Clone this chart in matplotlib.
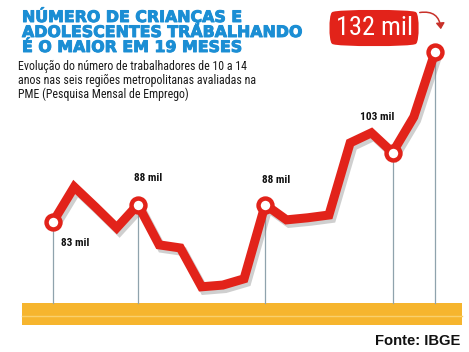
import matplotlib
matplotlib.use("Agg")
import matplotlib.pyplot as plt
import matplotlib.patheffects as pe
from matplotlib import font_manager as fm
from matplotlib.patches import FancyArrowPatch

# ---------------- data ----------------
months = list(range(19))
values = [83, 93.1, 87.3, 81.3, 88, 76.4, 75.5, 64.3, 64.8, 66.6,
          88, 83.6, 84.2, 85.0, 105.8, 108.7, 103, 113.3, 132]
marked_idx = [0, 4, 10, 16, 18]
marked_labels = ["83 mil", "88 mil", "88 mil", "103 mil", "132 mil"]

title_lines = ["NÚMERO DE CRIANÇAS E", "ADOLESCENTES TRABALHANDO", "É O MAIOR EM 19 MESES"]
subtitle_lines = ["Evolução do número de trabalhadores de 10 a 14",
                  "anos nas seis regiões metropolitanas avaliadas na",
                  "PME (Pesquisa Mensal de Emprego)"]
source = "Fonte: IBGE"

# ---------------- fonts ----------------
names = {f.name for f in fm.fontManager.ttflist}
def pick(*cands):
    for c in cands:
        if c in names:
            return c
    return "DejaVu Sans"
narrow = pick("Liberation Sans Narrow", "Roboto Condensed", "Open Sans Condensed", "DejaVu Sans")
sans = pick("Liberation Sans", "DejaVu Sans")

RED = "#E2231A"
BLUE = "#1B8ED4"
BAND = "#F6B52E"
GRAYLINE = "#8FA3AD"

W, H = 469, 352
fig = plt.figure(figsize=(W / 100, H / 100), dpi=100)
ax = fig.add_axes([0, 0, 1, 1])
ax.set_xlim(-2.497, 19.6)
ax.set_ylim(45.5, 147.0)
ax.axis("off")

band_top, band_bot = 59.65, 53.3
ax.axhspan(band_bot, band_top, xmin=22 / W, xmax=462 / W, color=BAND, zorder=1, lw=0)
ax.axhline(56.0, xmin=22 / W, xmax=462 / W, color="#FAD06C", lw=1.0, zorder=1.5)

# vertical guide lines
for i in marked_idx:
    ax.plot([months[i], months[i]], [band_top, values[i]], color=GRAYLINE, lw=0.9, zorder=2)

# main line with shadow
ax.plot(months, values, color=RED, lw=6.5, solid_joinstyle="miter", solid_capstyle="round", zorder=3,
        path_effects=[pe.SimpleLineShadow(offset=(2, -2.5), shadow_color="#777777", alpha=0.35),
                      pe.Normal()])
mx = [months[i] for i in marked_idx]
my = [values[i] for i in marked_idx]
ax.plot(mx, my, linestyle="none", marker="o", ms=10, mew=3.2, mfc="white", mec=RED, zorder=4)

# labels
offsets = [(22, -21), (10, 27), (11, 25), (-15, 36)]
for k, (i, lab) in enumerate(zip(marked_idx[:4], marked_labels[:4])):
    ax.annotate(lab, (months[i], values[i]), xytext=offsets[k], textcoords="offset pixels",
                ha="center", va="center", fontsize=8.2, fontweight="bold", family=narrow,
                color="#111111", zorder=5)

# 132 mil badge
ax.annotate(marked_labels[4], (months[18], values[18]), xytext=(-61, 24), textcoords="offset pixels",
            ha="center", va="center", fontsize=19, color="white", family=narrow, zorder=6,
            bbox=dict(boxstyle="round4,pad=0.22", fc=RED, ec=RED, lw=1.5))
arrow = FancyArrowPatch((417 / W, 1 - 13 / H), (441 / W, 1 - 32 / H), transform=ax.transAxes,
                        connectionstyle="arc3,rad=-0.6", arrowstyle="-|>,head_length=3.5,head_width=2.5",
                        color="#C8312A", lw=1.1, zorder=6)
ax.add_patch(arrow)

# titles
for j, line in enumerate(title_lines):
    fig.text(22 / W, 1 - (22 + 15 * j) / H, line, ha="left", va="baseline", fontsize=11.4,
             fontweight="bold", color=BLUE, family="DejaVu Sans",
             path_effects=[pe.withStroke(linewidth=0.7, foreground=BLUE)])
for j, line in enumerate(subtitle_lines):
    fig.text(18 / W, 1 - (70 + 13.8 * j) / H, line, ha="left", va="baseline", fontsize=8.6,
             color="#1a1a1a", family=narrow)
fig.text(460 / W, 1 - 345 / H, source, ha="right", va="baseline", fontsize=10.6, fontweight="bold",
         color="#111111", family=sans)

fig.savefig("out.png", dpi=100)
